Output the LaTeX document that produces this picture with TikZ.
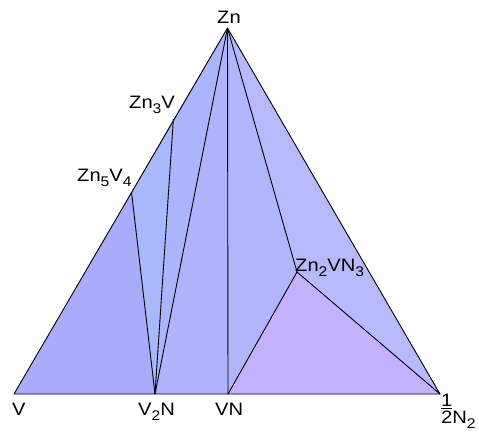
\documentclass[tikz,border=0pt]{standalone}
\usepackage{fontspec}
\setmainfont{Liberation Sans}[FakeStretch=1.12]
\newcommand\lsub[1]{\raisebox{-0.3em}{\fontsize{14}{14}\selectfont #1}}
\newcommand\halffrac{\begin{tabular}[b]{@{}c@{}}1\\[-3.5pt]\hline\rule{0pt}{14.5pt}2\end{tabular}}
\begin{document}
\begin{tikzpicture}[x=1pt,y=-1pt,
  edge/.style={black,line width=0.9pt,line join=round},
  lbl/.style={font=\fontsize{18}{18}\selectfont,inner sep=0pt,anchor=base west}]
\useasboundingbox (0,0) rectangle (479,432);
\coordinate (V) at (14,394);
\coordinate (Zn) at (227.5,28);
\coordinate (N) at (440,394);
\coordinate (V2N) at (155,394);
\coordinate (VN) at (228,394);
\coordinate (Zn3V) at (173.4,119);
\coordinate (Zn5V4) at (131.5,192);
\coordinate (Zn2VN3) at (297,272);
% faces
\fill[fill={rgb,255:red,169;green,171;blue,251}] (V) -- (Zn5V4) -- (V2N) -- cycle;
\fill[fill={rgb,255:red,169;green,183;blue,251}] (Zn5V4) -- (Zn3V) -- (V2N) -- cycle;
\fill[fill={rgb,255:red,172;green,180;blue,251}] (Zn3V) -- (Zn) -- (V2N) -- cycle;
\fill[fill={rgb,255:red,176;green,179;blue,251}] (Zn) -- (V2N) -- (VN) -- cycle;
\fill[fill={rgb,255:red,177;green,181;blue,251}] (Zn) -- (VN) -- (Zn2VN3) -- cycle;
\fill[fill={rgb,255:red,184;green,185;blue,251}] (Zn) -- (Zn2VN3) -- (N) -- cycle;
\fill[fill={rgb,255:red,195;green,178;blue,251}] (VN) -- (Zn2VN3) -- (N) -- cycle;
% edges
\draw[edge] (V) -- (Zn) -- (N) -- cycle;
\draw[edge] (V2N) -- (Zn5V4);
\draw[edge] (V2N) -- (Zn3V);
\draw[edge] (V2N) -- (Zn);
\draw[edge] (VN) -- (Zn);
\draw[edge] (Zn) -- (Zn2VN3);
\draw[edge] (VN) -- (Zn2VN3) -- (N);
% labels
\node[lbl] (lZn) at (217,23.5) {Zn};
\node[lbl] (lZn3V) at (129,108) {Zn\lsub{3}V};
\node[lbl] (lZn5V4) at (77,181) {Zn\lsub{5}V\lsub{4}};
\node[lbl] (lZn2VN3) at (295,271) {Zn\lsub{2}VN\lsub{3}};
\node[lbl] (lV) at (12,415) {V};
\node[lbl] (lV2N) at (138,415) {V\lsub{2}N};
\node[lbl] (lVN) at (215,415) {VN};
\node[lbl] (lN) at (441,423) {\halffrac N\lsub{2}};
\end{tikzpicture}
\end{document}
